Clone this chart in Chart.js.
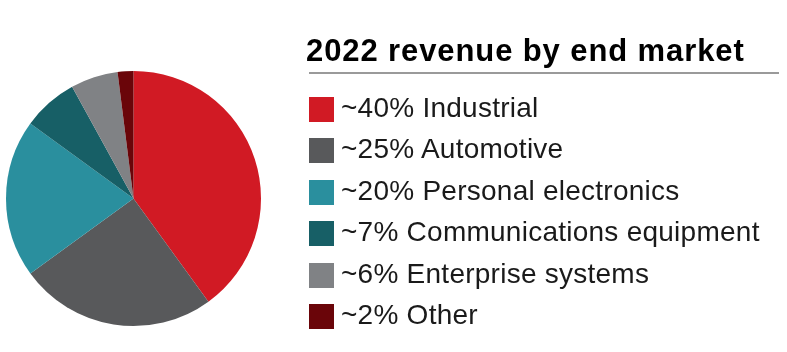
<!DOCTYPE html>
<html>
<head>
<meta charset="utf-8">
<script src="https://cdn.jsdelivr.net/npm/chart.js@4/dist/chart.umd.min.js"></script>
<style>
  html, body { margin: 0; padding: 0; background: #fff; }
  #wrap { position: relative; width: 787px; height: 352px; overflow: hidden; font-family: "Liberation Sans", Arial, sans-serif; }
  #pieChart { position: absolute; left: 0; top: 0; }
  #title { position: absolute; left: 306px; top: 31px; font-size: 31px; font-weight: bold; color: #000; line-height: 40px; letter-spacing: 0.9px; white-space: nowrap; }
  #rule { position: absolute; left: 309px; top: 72px; width: 470px; height: 2px; background: #9a9a9a; }
  #legend { position: absolute; left: 309px; top: 97px; margin: 0; padding: 0; list-style: none; }
  #legend li { height: 41.4px; display: flex; align-items: flex-start; white-space: nowrap; }
  #legend .sw { width: 25px; height: 25px; flex: none; }
  #legend .txt { margin-left: 7px; font-size: 28px; line-height: 21px; letter-spacing: 0.25px; color: #1a1a1a; }
</style>
</head>
<body>
<div id="wrap">
  <canvas id="pieChart" width="787" height="352"></canvas>
  <div id="title">2022 revenue by end market</div>
  <div id="rule"></div>
  <ul id="legend"></ul>
</div>
<script>
// 데이터
const markets = ['Industrial', 'Automotive', 'Personal electronics', 'Communications equipment', 'Enterprise systems', 'Other'];
const shares = [40, 25, 20, 7, 6, 2];
const colors = ['#d11a24', '#58595b', '#2a8f9e', '#175f66', '#808285', '#6a0509'];

const ctx = document.getElementById('pieChart').getContext('2d');
const pieChart = new Chart(ctx, {
  type: 'pie',
  data: {
    labels: markets,
    datasets: [{
      data: shares,
      backgroundColor: colors,
      borderWidth: 0,
      hoverOffset: 0
    }]
  },
  options: {
    responsive: false,
    animation: false,
    layout: {
      padding: { left: 6, top: 71, right: 526, bottom: 26 }
    },
    plugins: {
      legend: { display: false },
      tooltip: { enabled: false }
    }
  }
});

// 범례 (HTML)
const legendEl = document.getElementById('legend');
markets.forEach(function(name, i) {
  const li = document.createElement('li');
  const sw = document.createElement('span');
  sw.className = 'sw';
  sw.style.background = colors[i];
  const txt = document.createElement('span');
  txt.className = 'txt';
  txt.textContent = '~' + shares[i] + '% ' + name;
  li.appendChild(sw);
  li.appendChild(txt);
  legendEl.appendChild(li);
});
</script>
</body>
</html>
